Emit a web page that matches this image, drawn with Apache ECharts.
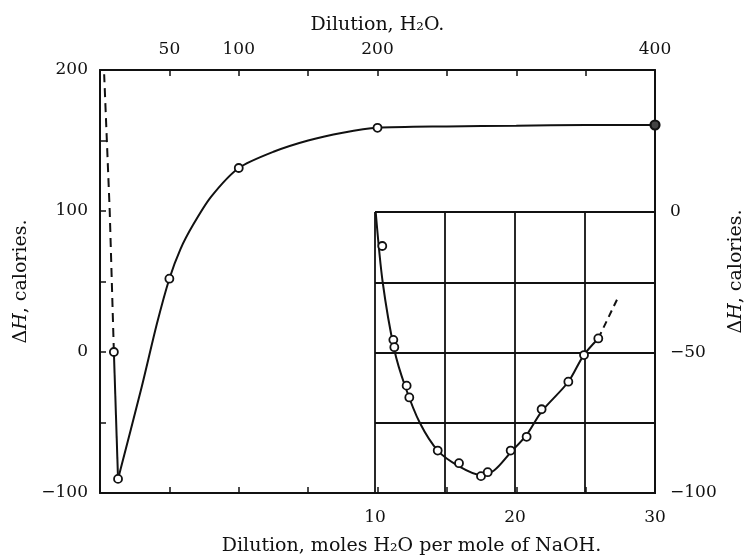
<!DOCTYPE html>
<html>
<head>
<meta charset="utf-8">
<script src="https://cdn.jsdelivr.net/npm/echarts@6/dist/echarts.min.js"></script>
<style>html,body{margin:0;padding:0;background:#fff}#c{width:745px;height:555px}</style>
</head>
<body>
<div id="c"></div>
<script>
// ---- data ----
const topTickLabels = [50, 100, 200, 400];
const leftTickLabels = [200, 100, 0, -100];
const bottomTickLabels = [10, 20, 30];
const rightTickLabels = [0, -50, -100];
// main plot: dilution (moles H2O) vs ΔH (cal)
const mainDashed = [[10, 0], [7, 100], [3, 197]];
const mainDrop = [[10, 0], [13, -90]];
const mainCurve = [[13, -90], [30, -25], [41, 20], [50, 52], [58, 73], [67, 90], [80, 110], [100, 130.5],
  [125, 142], [150, 150], [175, 155.5], [200, 159], [250, 160], [300, 160.5], [350, 161], [400, 161]];
const mainPoints = [[10, 0], [13, -90], [50, 52], [100, 130.5], [200, 159]];
const mainEndPoint = [[400, 161]];
// inset: dilution 10..30
const insetPoints = [[10.52, -12.1], [11.31, -45.5], [11.38, -48.1], [12.26, -61.8], [12.45, -66],
  [14.48, -84.9], [16.0, -89.4], [17.57, -94.0], [18.05, -92.6], [19.69, -84.9], [20.83, -80],
  [21.9, -70.2], [23.81, -60.4], [24.93, -50.9], [25.95, -45]];
const insetCurve = [[10.05, 0], [10.55, -25], [11.38, -49], [12.15, -62], [13.2, -75], [14.5, -85],
  [16.0, -90.5], [17.5, -93.5], [18.5, -92], [19.7, -85.5], [20.8, -79.5], [21.9, -71],
  [23.8, -60.5], [24.9, -51], [25.95, -45]];
const insetDashed = [[25.95, -45], [27.4, -30]];

const FONT = 'DejaVu Serif';
const FS = 17;
const NFS = 19;
const INK = '#111';
const minus = v => (v < 0 ? '\u2212' + Math.abs(v) : String(v));
const txt = {fontFamily: FONT, fontSize: FS, color: INK};
const ntxt = {fontFamily: FONT, fontSize: NFS, color: INK};
const nameRich = {i: {fontFamily: FONT, fontSize: NFS, fontStyle: 'italic', color: INK}};
const axLine = {show: true, onZero: false, lineStyle: {color: INK, width: 2}};
const tickIn = {show: true, inside: true, length: 6, lineStyle: {color: INK, width: 1.5}};

const chart = echarts.init(document.getElementById('c'), null, {renderer: 'canvas'});
chart.setOption({
  animation: false,
  backgroundColor: '#fff',
  grid: [
    {left: 100, top: 70, width: 555, height: 423, containLabel: false, outerBoundsMode: 'none'},
    {left: 375, top: 212, width: 280, height: 281, containLabel: false, outerBoundsMode: 'none'}
  ],
  xAxis: [
    {gridIndex: 0, type: 'value', position: 'top', min: 0, max: 400, interval: 50,
      axisLine: axLine, axisTick: tickIn, splitLine: {show: false},
      axisLabel: Object.assign({margin: 12, formatter: v => topTickLabels.includes(v) ? String(v) : ''}, txt),
      name: 'Dilution, H\u2082O.', nameLocation: 'middle', nameGap: 35,
      nameTextStyle: ntxt},
    {gridIndex: 0, type: 'value', position: 'bottom', min: 0, max: 400, interval: 50,
      axisLine: axLine, axisTick: tickIn, splitLine: {show: false},
      axisLabel: {show: false},
      name: 'Dilution, moles H\u2082O per mole of NaOH.', nameLocation: 'middle', nameGap: 44,
      nameTextStyle: Object.assign({padding: [0, 0, 0, 68]}, ntxt)},
    {gridIndex: 1, type: 'value', position: 'bottom', min: 10, max: 30, interval: 5,
      axisLine: axLine, axisTick: {show: false},
      splitLine: {show: true, lineStyle: {color: INK, width: 1.8}},
      axisLabel: Object.assign({margin: 16, formatter: v => bottomTickLabels.includes(v) ? String(v) : ''}, txt)}
  ],
  yAxis: [
    {gridIndex: 0, type: 'value', position: 'left', min: -100, max: 200, interval: 50,
      axisLine: axLine, axisTick: tickIn, splitLine: {show: false},
      axisLabel: Object.assign({margin: 12, formatter: v => leftTickLabels.includes(v) ? minus(v) : ''}, txt),
      name: '\u0394{i|H}, calories.', nameLocation: 'middle', nameGap: 68, nameRotate: 90,
      nameTextStyle: Object.assign({rich: nameRich}, ntxt)},
    {gridIndex: 0, type: 'value', position: 'right', min: -100, max: 200, interval: 50,
      axisLine: axLine, axisTick: {show: false}, splitLine: {show: false},
      axisLabel: {show: false},
      name: '\u0394{i|H}, calories.', nameLocation: 'middle', nameGap: 72, nameRotate: 90,
      nameTextStyle: Object.assign({rich: nameRich, padding: [0, 0, 0, 20]}, ntxt)},
    {gridIndex: 1, type: 'value', position: 'right', min: -100, max: 0, interval: 25,
      axisLine: axLine, axisTick: {show: false},
      splitLine: {show: true, lineStyle: {color: INK, width: 1.8}},
      axisLabel: Object.assign({margin: 15, formatter: v => rightTickLabels.includes(v) ? minus(v) : ''}, txt)}
  ],
  series: [
    {type: 'line', xAxisIndex: 0, yAxisIndex: 0, data: mainDashed, smooth: false, symbol: 'none',
      lineStyle: {color: INK, width: 2, type: [9, 6]}},
    {type: 'line', xAxisIndex: 0, yAxisIndex: 0, data: mainDrop, smooth: false, symbol: 'none',
      lineStyle: {color: INK, width: 2}},
    {type: 'line', xAxisIndex: 0, yAxisIndex: 0, data: mainCurve, smooth: 0.25, symbol: 'none',
      lineStyle: {color: INK, width: 2}},
    {type: 'scatter', xAxisIndex: 0, yAxisIndex: 0, data: mainPoints, symbol: 'circle', symbolSize: 8,
      itemStyle: {color: '#fff', opacity: 1, borderColor: INK, borderWidth: 1.8}, z: 5},
    {type: 'scatter', xAxisIndex: 0, yAxisIndex: 0, data: mainEndPoint, symbol: 'circle', symbolSize: 9,
      itemStyle: {color: '#444', opacity: 1, borderColor: INK, borderWidth: 2.2}, z: 6},
    {type: 'line', xAxisIndex: 2, yAxisIndex: 2, data: insetCurve, smooth: 0.3, symbol: 'none',
      lineStyle: {color: INK, width: 2}},
    {type: 'line', xAxisIndex: 2, yAxisIndex: 2, data: insetDashed, smooth: false, symbol: 'none',
      lineStyle: {color: INK, width: 2, type: [7, 5]}},
    {type: 'scatter', xAxisIndex: 2, yAxisIndex: 2, data: insetPoints, symbol: 'circle', symbolSize: 8,
      itemStyle: {color: '#fff', opacity: 1, borderColor: INK, borderWidth: 1.8}, z: 5}
  ]
});
</script>
</body>
</html>
